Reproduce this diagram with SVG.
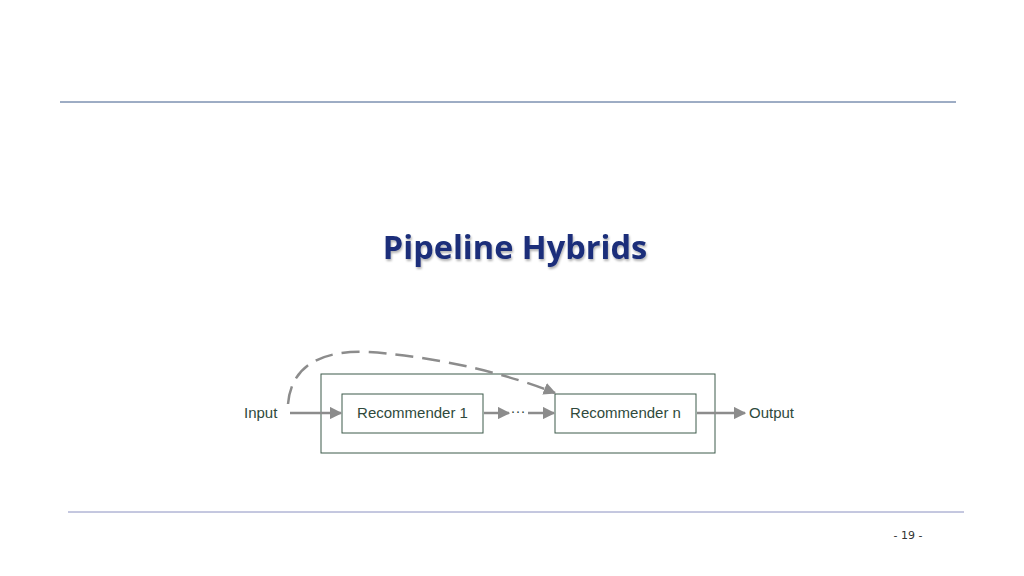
<svg xmlns="http://www.w3.org/2000/svg" width="1024" height="576" viewBox="0 0 1024 576">
<style>
.box{fill:#fff;stroke:#3d5a4a;stroke-width:1}
.lbl{font-family:"Liberation Sans",Arial,sans-serif;font-size:15px;fill:#2f4a3c}
.con{stroke:#8c8c8c;stroke-width:2.5;fill:none}
</style>
<defs>
<marker id="ah" viewBox="0 0 10 10" refX="9" refY="5" markerWidth="5" markerHeight="5" orient="auto" markerUnits="strokeWidth"><path d="M0,0L10,5L0,10z" fill="#8c8c8c"/></marker>
<filter id="sh"><feDropShadow dx="1" dy="2" stdDeviation="1.2" flood-color="#000" flood-opacity="0.3"/></filter>
</defs>
<rect width="1024" height="576" fill="#fff"/>
<line x1="60" y1="102" x2="956" y2="102" stroke="#3c5a8a" stroke-width="1"/>
<line x1="68" y1="512" x2="964" y2="512" stroke="#8a90c0" stroke-width="1"/>
<text x="515" y="259" text-anchor="middle" font-family="'Open Sans','Noto Sans',sans-serif" font-weight="bold" font-size="32.5" fill="#1a2f7a" filter="url(#sh)">Pipeline Hybrids</text>
<text x="908" y="539" text-anchor="middle" font-family="'DejaVu Sans',sans-serif" font-size="11" fill="#333">- 19 -</text>
<g id="outer"><rect class="box" x="321" y="374" width="394" height="79"/></g>
<g id="rec1"><rect class="box" x="342" y="394" width="141" height="39"/><text class="lbl" x="412.5" y="418" text-anchor="middle">Recommender 1</text></g>
<g id="recn"><rect class="box" x="555" y="394" width="141" height="39"/><text class="lbl" x="625.5" y="418" text-anchor="middle">Recommender n</text></g>
<g id="input"><text class="lbl" x="244" y="418">Input</text></g>
<g id="output"><text class="lbl" x="749" y="418">Output</text></g>
<g id="dots"><text class="lbl" x="518" y="416" text-anchor="middle" font-size="10">···</text></g>
<g id="connectors">
<line class="con" x1="290" y1="413" x2="341" y2="413" marker-end="url(#ah)"/>
<line class="con" x1="484" y1="413" x2="509" y2="413" marker-end="url(#ah)"/>
<line class="con" x1="528" y1="413" x2="554" y2="413" marker-end="url(#ah)"/>
<line class="con" x1="697" y1="413" x2="745" y2="413" marker-end="url(#ah)"/>
<path class="con" d="M288,404 C293,345 360,350 390,354 C450,360 510,375 555,393" stroke-dasharray="18,9" marker-end="url(#ah)"/>
</g>
</svg>
